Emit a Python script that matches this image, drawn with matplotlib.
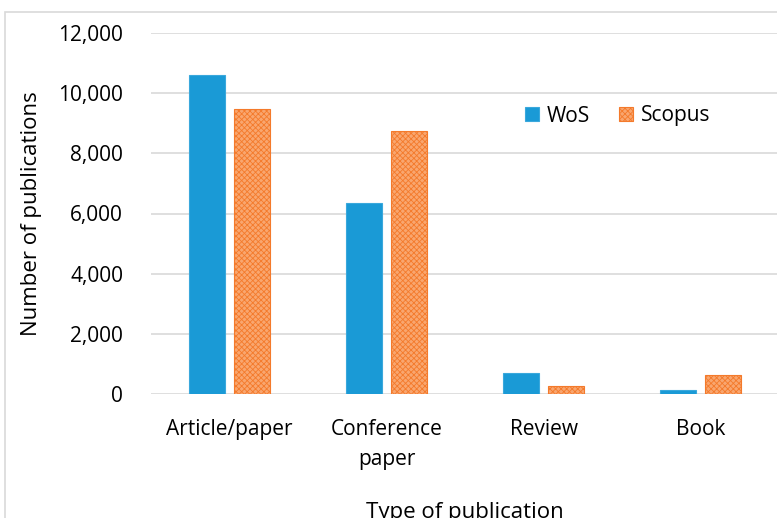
import matplotlib
matplotlib.use('Agg')
import matplotlib.pyplot as plt
from matplotlib.patches import Rectangle
from matplotlib.ticker import FuncFormatter
import numpy as np

# chart data
categories = ['Article/paper', 'Conference\npaper', 'Review', 'Book']
wosCounts = [10600, 6350, 690, 120]
scopusCounts = [9470, 8750, 265, 630]
yTicks = [0, 2000, 4000, 6000, 8000, 10000, 12000]

# style settings
wosColor = '#1A9AD6'
scopusFace = '#F9A66F'
scopusHatch = '#F47A2B'
gridColor = '#D9D9D9'
barWidth = 0.225
barOffset = 0.143
tickFont = 15
labelFont = 16

plt.rcParams['font.family'] = ['Open Sans', 'DejaVu Sans']
plt.rcParams['hatch.linewidth'] = 0.6

fig = plt.figure(figsize=(7.77, 5.18), dpi=100)
ax = fig.add_axes([151 / 777, 1 - 394 / 518, 628 / 777, 361 / 518])

# light outer frame like the chart area border
fig.patches.append(Rectangle((5 / 777, -0.1), 1.1, 1 - 12 / 518 + 0.1,
                             transform=fig.transFigure, fill=False,
                             edgecolor=gridColor, linewidth=1.2))

x = np.arange(len(categories))
ax.bar(x - barOffset, wosCounts, width=barWidth, color=wosColor,
       edgecolor='#3AA8DC', linewidth=0.8, label='WoS', zorder=3)
ax.bar(x + barOffset, scopusCounts, width=barWidth, color=scopusFace,
       edgecolor=scopusHatch, hatch='xxxxxx', linewidth=0.8,
       label='Scopus', zorder=3)

ax.set_xlim(-0.5, 3.5)
ax.set_ylim(0, 12000)
ax.set_yticks(yTicks)
ax.yaxis.set_major_formatter(FuncFormatter(lambda v, p: f'{int(v):,}'))
ax.set_xticks(x)
ax.set_xticklabels(categories, fontsize=tickFont, linespacing=1.55)
ax.tick_params(axis='y', labelsize=tickFont, length=0, pad=20)
ax.tick_params(axis='x', length=0, pad=18)
ax.yaxis.grid(True, color=gridColor, linewidth=1.2, zorder=0)
for spine in ax.spines.values():
    spine.set_visible(False)

ax.set_ylabel('Number of publications', fontsize=labelFont, labelpad=12)
ax.set_xlabel('Type of publication', fontsize=labelFont, labelpad=23)

ax.legend(loc='center', bbox_to_anchor=(618 / 777, 1 - 116 / 518),
          bbox_transform=fig.transFigure, ncol=2, frameon=False,
          fontsize=tickFont, handlelength=0.65, handleheight=0.65,
          handletextpad=0.4, columnspacing=1.4)

fig.savefig('out.png', dpi=100)
